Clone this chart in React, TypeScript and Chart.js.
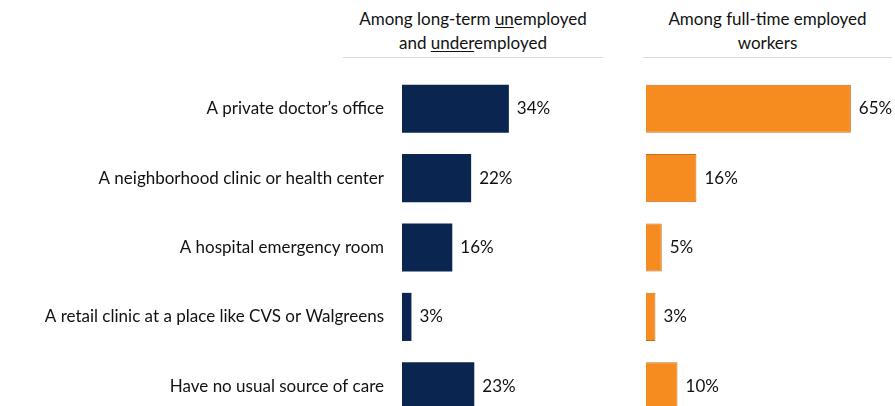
import React, { useEffect, useRef } from "react";
import { Chart, registerables } from "chart.js";

Chart.register(...registerables);

const categories = [
  "A private doctor\u2019s office",
  "A neighborhood clinic or health center",
  "A hospital emergency room",
  "A retail clinic at a place like CVS or Walgreens",
  "Have no usual source of care",
];
const unemployedValues = [34, 22, 16, 3, 23];
const employedValues = [65, 16, 5, 3, 10];

const FONT = "Lato, 'Open Sans', sans-serif";
const NAVY = "#0a2550";
const ORANGE = "#f68b1f";
const LABEL_SIZE = 17;

const valueLabels = {
  id: "valueLabels",
  afterDatasetsDraw(chart: any) {
    const ctx = chart.ctx;
    ctx.save();
    ctx.font = `${LABEL_SIZE}px ${FONT}`;
    ctx.fillStyle = "#111";
    ctx.textAlign = "left";
    ctx.textBaseline = "middle";
    chart.data.datasets.forEach((ds: any, di: number) => {
      const meta = chart.getDatasetMeta(di);
      meta.data.forEach((bar: any, i: number) => {
        ctx.fillText(`${ds.data[i]}%`, bar.x + 8, bar.y);
      });
    });
    ctx.restore();
  },
};

function makeChart(canvas: HTMLCanvasElement, values: number[], color: string, border: string, max: number, showLabels: boolean) {
  return new Chart(canvas, {
    type: "bar",
    data: {
      labels: categories,
      datasets: [
        {
          data: values,
          backgroundColor: color,
          borderColor: border,
          borderWidth: showLabels ? 0 : 1,
          categoryPercentage: 1,
          barPercentage: 0.693,
        },
      ],
    },
    options: {
      indexAxis: "y",
      responsive: false,
      maintainAspectRatio: false,
      animation: false,
      layout: { padding: 0 },
      plugins: { legend: { display: false }, tooltip: { enabled: false } },
      scales: {
        x: { display: false, min: 0, max },
        y: {
          display: showLabels,
          grid: { display: false },
          border: { display: false },
          ticks: { color: "#111", font: { family: FONT, size: LABEL_SIZE }, padding: 10 },
          afterFit: (s: any) => {
            if (showLabels) s.width = 402;
            s.paddingTop = 0;
            s.paddingBottom = 0;
          },
        },
      },
    },
    plugins: [valueLabels],
  } as any);
}

export default function App() {
  const leftRef = useRef<HTMLCanvasElement>(null);
  const rightRef = useRef<HTMLCanvasElement>(null);

  useEffect(() => {
    const a = makeChart(leftRef.current!, unemployedValues, NAVY, NAVY, 70, true);
    const b = makeChart(rightRef.current!, employedValues, ORANGE, "#c8701f", 79, false);
    return () => {
      a.destroy();
      b.destroy();
    };
  }, []);

  const header: React.CSSProperties = {
    position: "absolute",
    top: 7,
    textAlign: "center",
    fontFamily: FONT,
    fontSize: 17,
    lineHeight: "24px",
    color: "#111",
  };
  const rule: React.CSSProperties = { position: "absolute", top: 57, height: 1, background: "#d9d9d9" };
  const u: React.CSSProperties = { textUnderlineOffset: 2 };

  return (
    <div style={{ position: "fixed", left: 0, top: 0, width: 895, height: 406, overflow: "hidden", background: "#fff" }}>
      <div style={{ ...header, left: 343, width: 260 }}>
        Among long-term <u style={u}>un</u>employed
        <br />
        and <u style={u}>under</u>employed
      </div>
      <div style={{ ...header, left: 643, width: 249 }}>
        Among full-time employed
        <br />
        workers
      </div>
      <div style={{ ...rule, left: 343, width: 260 }} />
      <div style={{ ...rule, left: 643, width: 249 }} />
      <canvas ref={leftRef} width={622} height={347} style={{ position: "absolute", left: 0, top: 74, width: 622, height: 347 }} />
      <canvas ref={rightRef} width={249} height={347} style={{ position: "absolute", left: 646, top: 74, width: 249, height: 347 }} />
    </div>
  );
}
